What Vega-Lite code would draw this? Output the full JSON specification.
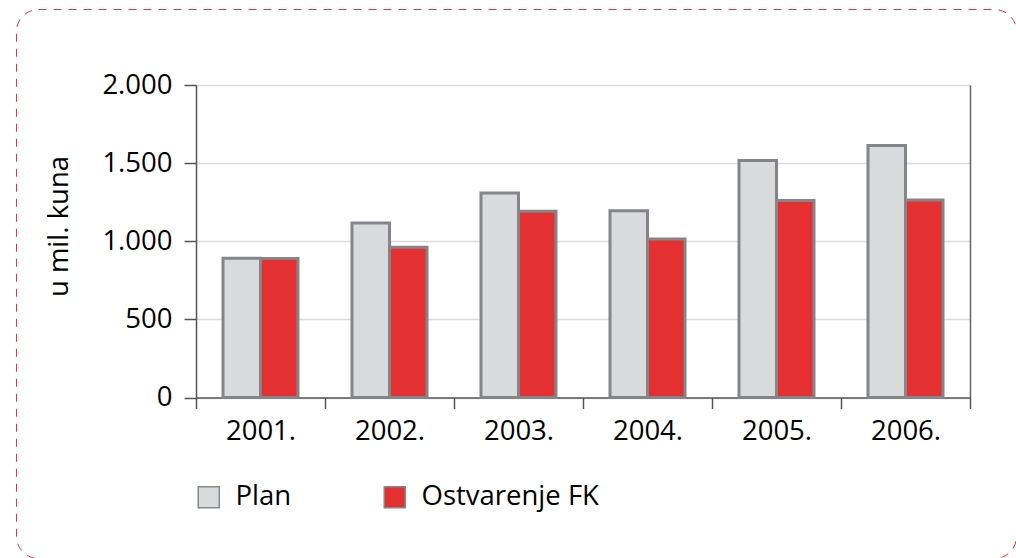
{
  "$schema": "https://vega.github.io/schema/vega-lite/v6.json",
  "width": 1000,
  "height": 549,
  "autosize": {"type": "none"},
  "padding": {"left": 16, "top": 9, "right": 0, "bottom": 0},
  "background": "white",
  "config": {
    "view": {"stroke": "#e8343a", "strokeDash": [8, 7], "strokeWidth": 1, "cornerRadius": 22},
    "font": "Open Sans"
  },
  "data": {
    "values": [
      {"year": "2001.", "series": "Plan", "value": 891},
      {"year": "2001.", "series": "Ostvarenje FK", "value": 889},
      {"year": "2002.", "series": "Plan", "value": 1117},
      {"year": "2002.", "series": "Ostvarenje FK", "value": 961},
      {"year": "2003.", "series": "Plan", "value": 1309},
      {"year": "2003.", "series": "Ostvarenje FK", "value": 1192},
      {"year": "2004.", "series": "Plan", "value": 1196},
      {"year": "2004.", "series": "Ostvarenje FK", "value": 1014},
      {"year": "2005.", "series": "Plan", "value": 1517},
      {"year": "2005.", "series": "Ostvarenje FK", "value": 1261},
      {"year": "2006.", "series": "Plan", "value": 1613},
      {"year": "2006.", "series": "Ostvarenje FK", "value": 1264}
    ]
  },
  "layer": [
    {
      "mark": {"type": "bar", "stroke": "#858589", "strokeWidth": 3},
      "encoding": {
        "x": {
          "field": "year", "type": "nominal", "sort": null,
          "scale": {"range": [180, 954], "paddingInner": 0, "paddingOuter": 0},
          "axis": {
            "title": null, "labelAngle": 0, "tickBand": "extent", "offset": -160.5,
            "domainColor": "#555", "domainWidth": 1.5, "tickColor": "#555", "tickWidth": 1.5,
            "tickSize": 11, "labelFontSize": 27.5, "labelColor": "#000", "labelPadding": 9,
            "grid": false
          }
        },
        "xOffset": {
          "field": "series", "type": "nominal", "sort": ["Plan", "Ostvarenje FK"],
          "scale": {"paddingOuter": 0.72, "paddingInner": 0}
        },
        "y": {
          "field": "value", "type": "quantitative",
          "scale": {"domain": [0, 2000], "range": [388.5, 76], "nice": false, "zero": true},
          "axis": {
            "values": [0, 500, 1000, 1500, 2000],
            "labelExpr": "replace(datum.label, ',', '.')",
            "offset": -180,
            "domainColor": "#555", "domainWidth": 1.5, "tickColor": "#555", "tickWidth": 1.5,
            "tickSize": 12, "labelFontSize": 27.5, "labelColor": "#000", "labelPadding": 12,
            "grid": true, "gridColor": "#dcdcdc", "gridWidth": 1.5,
            "title": "u mil. kuna", "titleFontSize": 27.5, "titleFontWeight": "normal", "titleColor": "#000",
            "titleAngle": 270, "titleAlign": "center", "titleBaseline": "middle",
            "titleX": -137, "titleY": 217
          }
        },
        "color": {
          "field": "series", "type": "nominal",
          "scale": {"domain": ["Plan", "Ostvarenje FK"], "range": ["#d9dadc", "#e53032"]},
          "legend": {
            "title": null, "orient": "none", "legendX": 179, "legendY": 474,
            "direction": "horizontal", "padding": 0,
            "labelFontSize": 27.5, "labelColor": "#000", "labelOffset": 13, "labelLimit": 400,
            "symbolType": "square", "symbolSize": 441, "symbolStrokeColor": "#88888c",
            "symbolStrokeWidth": 1.5, "symbolOpacity": 1, "columnPadding": 89
          }
        }
      }
    },
    {
      "mark": {"type": "bar", "opacity": 0},
      "encoding": {
        "x": {"field": "year", "type": "nominal", "sort": null},
        "y": {
          "field": "value", "type": "quantitative",
          "scale": {"domain": [0, 2000], "range": [388.5, 76], "nice": false},
          "axis": {
            "orient": "right", "offset": -46, "labels": false, "ticks": false, "grid": false,
            "title": null, "domainColor": "#666", "domainWidth": 1.5
          }
        }
      }
    }
  ],
  "resolve": {"scale": {"y": "independent"}}
}
